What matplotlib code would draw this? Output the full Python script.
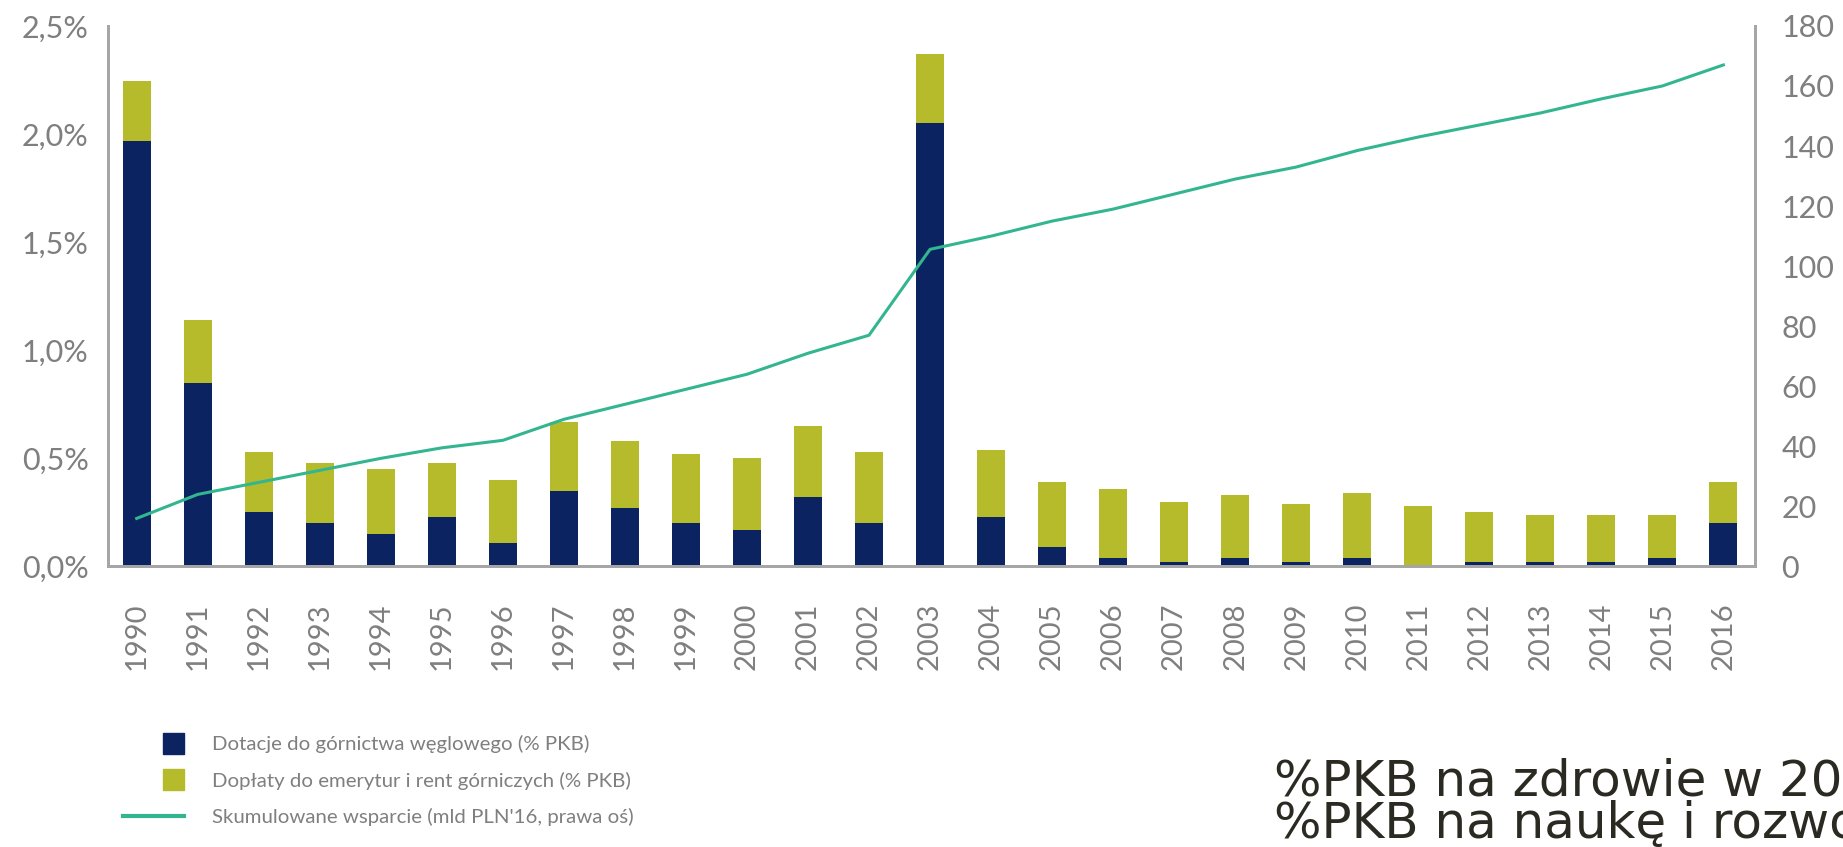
import numpy as np
import matplotlib.pyplot as plt
from matplotlib.patches import Patch, Rectangle
from matplotlib.lines import Line2D
from matplotlib.legend_handler import HandlerPatch

plt.rcParams['font.family'] = ['Lato', 'DejaVu Sans']

years = [str(y) for y in range(1990, 2017)]

# dotacje do gornictwa weglowego (% PKB)
dotacje = [1.97, 0.85, 0.25, 0.20, 0.15, 0.23, 0.11, 0.35, 0.27, 0.20,
           0.17, 0.32, 0.20, 2.05, 0.23, 0.09, 0.04, 0.02, 0.04, 0.02,
           0.04, 0.005, 0.02, 0.02, 0.02, 0.04, 0.20]
# doplaty do emerytur i rent gorniczych (% PKB)
doplaty = [0.275, 0.29, 0.28, 0.28, 0.30, 0.25, 0.29, 0.32, 0.31, 0.32,
           0.33, 0.33, 0.33, 0.32, 0.31, 0.30, 0.32, 0.28, 0.29, 0.27,
           0.30, 0.275, 0.23, 0.22, 0.22, 0.20, 0.19]
# skumulowane wsparcie (mld PLN'16)
wsparcie = [16, 24, 28, 32, 36, 39.5, 42, 49, 54, 59,
            64, 71, 77, 105.6, 110, 115, 119, 124, 129, 133,
            138.5, 143, 147, 151, 155.7, 160, 167]

navy = '#0b2461'
olive = '#b6bb2c'
teal = '#33b690'
grey = '#7f7f7f'
spine_c = '#a6a6a6'

fig = plt.figure(figsize=(18.43, 8.47), dpi=100)
ax = fig.add_axes([0.0586, 0.3312, 0.8937, 0.6382])
ax2 = ax.twinx()

x = np.arange(len(years))
ax.bar(x, dotacje, width=0.46, color=navy, zorder=2)
ax.bar(x, doplaty, width=0.46, bottom=dotacje, color=olive, zorder=2)
ax2.plot(x, wsparcie, color=teal, lw=2.2)

ax.set_xlim(-0.47, 26.52)
ax.set_ylim(0, 2.5)
ax2.set_ylim(0, 180)

ax.set_yticks(np.arange(0, 2.51, 0.5))
ax.set_yticklabels([f'{v:.1f}%'.replace('.', ',') for v in np.arange(0, 2.51, 0.5)])
ax2.set_yticks(range(0, 181, 20))
ax.set_xticks(x)
ax.set_xticklabels(years, rotation=90)

for a in (ax, ax2):
    a.spines['top'].set_visible(False)
    for s in ('left', 'right', 'bottom'):
        a.spines[s].set_color(spine_c)
        a.spines[s].set_linewidth(2)
    a.tick_params(length=0, labelsize=22, colors=grey)
ax.tick_params(axis='x', pad=26, labelsize=21)
ax.tick_params(axis='y', pad=14)
ax2.tick_params(axis='y', pad=19)


# small square at the right end of the handle box
def square(legend, orig_handle, xdescent, ydescent, width, height, fontsize):
    s = 15
    return Rectangle((-xdescent + width - s, -ydescent + (height - s) / 2), s, s)


handles = [Patch(color=navy), Patch(color=olive), Line2D([], [], color=teal, lw=3)]
labels = ['Dotacje do górnictwa węglowego (% PKB)',
          'Dopłaty do emerytur i rent górniczych (% PKB)',
          "Skumulowane wsparcie (mld PLN'16, prawa oś)"]
fig.legend(handles, labels, loc='upper left', bbox_to_anchor=(0.0667, 0.132),
           frameon=False, fontsize=14.7, labelcolor=grey, handlelength=44 / 14.7,
           handletextpad=20 / 14.7, labelspacing=0.9, borderpad=0, borderaxespad=0,
           handler_map={Patch: HandlerPatch(patch_func=square)})

fig.text(0.691, 0.011, '%PKB na zdrowie w 20\n%PKB na naukę i rozwo', fontsize=36,
         color='#2b2a22', family='DejaVu Sans', linespacing=0.86)

fig.savefig('out.png', dpi=100)
